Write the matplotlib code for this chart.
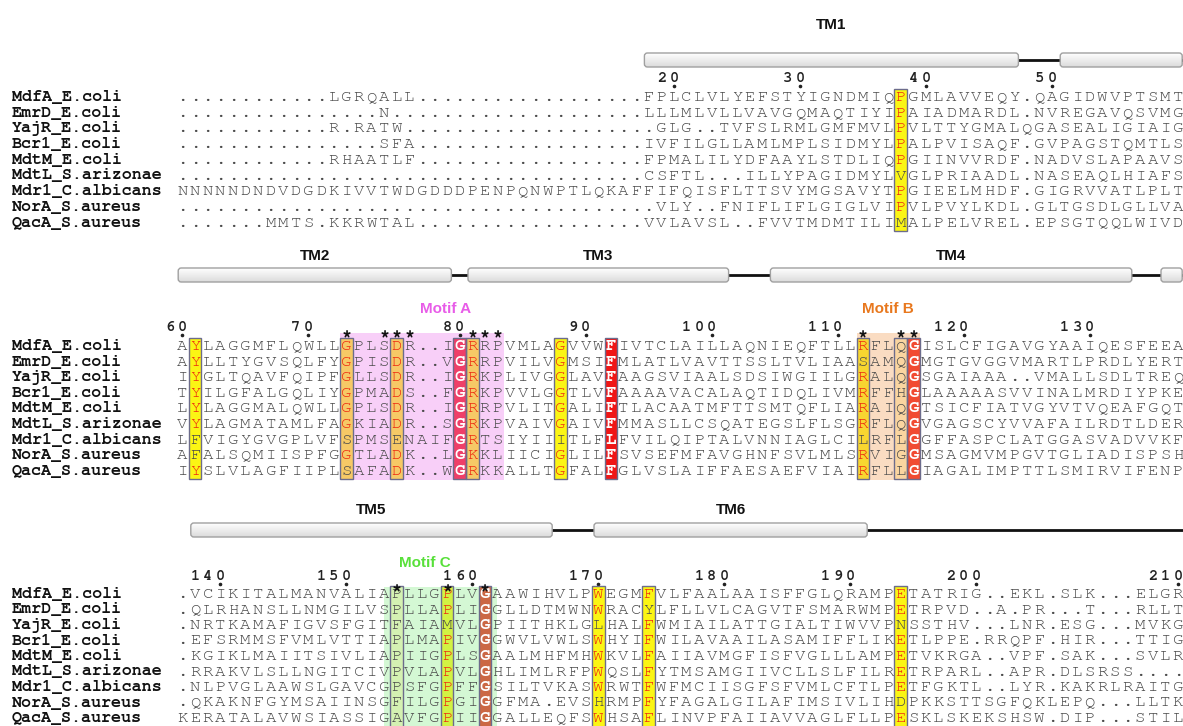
import numpy as np
import matplotlib.pyplot as plt
from matplotlib import font_manager as fm
from matplotlib.patches import Rectangle, FancyBboxPatch

names = ['MdfA_E.coli', 'EmrD_E.coli', 'YajR_E.coli', 'Bcr1_E.coli', 'MdtM_E.coli',
         'MdtL_S.arizonae', 'Mdr1_C.albicans', 'NorA_S.aureus', 'QacA_S.aureus']

# alignment, three blocks of 80 columns
block1 = [
    '.' * 12 + 'LGRQALL' + '.' * 18 + 'FPLCLVLYEFSTYIGNDMIQPGMLAVVEQY.QAGIDWVPTSMT',
    '.' * 16 + 'N' + '.' * 20 + 'LLLMLVLLVAVGQMAQTIYIPAIADMARDL.NVREGAVQSVMG',
    '.' * 12 + 'R.RATW' + '.' * 19 + '.GLG..TVFSLRMLGMFMVLPVLTTYGMALQGASEALIGIAIG',
    '.' * 16 + 'SFA' + '.' * 18 + 'IVFILGLLAMLMPLSIDMYLPALPVISAQF.GVPAGSTQMTLS',
    '.' * 12 + 'RHAATLF' + '.' * 18 + 'FPMALILYDFAAYLSTDLIQPGIINVVRDF.NADVSLAPAAVS',
    '.' * 37 + 'CSFTL...ILLYPAGIDMYLVGLPRIAADL.NASEAQLHIAFS',
    'NNNNNDNDVDGDKIVVTWDGDDDPENPQNWPTLQKAF' + 'FIFQISFLTTSVYMGSAVYTPGIEELMHDF.GIGRVVATLPLT',
    '.' * 37 + '.VLY..FNIFLIFLGIGLVIPVLPVYLKDL.GLTGSDLGLLVA',
    '.' * 7 + 'MMTS.KKRWTAL' + '.' * 18 + 'VVLAVSL..FVVTMDMTILIMALPELVREL.EPSGTQQLWIVD',
]
block2 = [
    'AYLAGGMFLQWLLGPLSDR..IGRRPVMLAGVVWFIVTCLAILLAQNIEQFTLLRFLQGISLCFIGAVGYAAIQESFEEA',
    'AYLLTYGVSQLFYGPISDR..VGRRPVILVGMSIFMLATLVAVTTSSLTVLIAASAMQGMGTGVGGVMARTLPRDLYERT',
    'IYGLTQAVFQIPFGLLSDR..IGRKPLIVGGLAVFAAGSVIAALSDSIWGIILGRALQGSGAIAAA..VMALLSDLTREQ',
    'TYILGFALGQLIYGPMADS..FGRKPVVLGGTLVFAAAAVACALAQTIDQLIVMRFFHGLAAAAASVVINALMRDIYPKE',
    'LYLAGGMALQWLLGPLSDR..IGRRPVLITGALIFTLACAATMFTTSMTQFLIARAIQGTSICFIATVGYVTVQEAFGQT',
    'VYLAGMATAMLFAGKIADR..SGRKPVAIVGAIVFMMASLLCSQATEGSLFLSGRFLQGVGAGSCYVVAFAILRDTLDER',
    'LFVIGYGVGPLVFSPMSENAIFGRTSIYIIITLFLFVILQIPTALVNNIAGLCILRFLGGFFASPCLATGGASVADVVKFW',
    'AFALSQMIISPFGGTLADK..LGKKLIICIGLILFSVSEFMFAVGHNFSVLMLSRVIGGMSAGMVMPGVTGLIADISPSH',
    'IYSLVLAGFIIPLSAFADK..WGRKKALLTGFALFGLVSLAIFFAESAEFVIAIRFLLGIAGALIMPTTLSMIRVIFENP',
]
block3 = [
    '.VCIKITALMANVALIAPLLGPLVGAAWIHVLPWEGMFVLFAALAAISFFGLQRAMPETATRIG..EKL.SLK...ELGR',
    '.QLRHANSLLNMGILVSPLLAPLIGGLLDTMWNWRACYLFLLVLCAGVTFSMARWMPETRPVD..A.PR...T...RLLT',
    '.NRTKAMAFIGVSFGITFAIAMVLGPIITHKLGLHALFWMIAILATTGIALTIWVVPNSSTHV...LNR.ESG...MVKG',
    '.EFSRMMSFVMLVTTIAPLMAPIVGGWVLVWLSWHYIFWILAVAAILASAMIFFLIKETLPPE.RRQPF.HIR...TTIG',
    '.KGIKLMAIITSIVLIAPIIGPLSGAALMHFMHWKVLFAIIAVMGFISFVGLLLAMPETVKRGA..VPF.SAK...SVLR',
    '.RRAKVLSLLNGITCIVPVLAPVLGHLIMLRFPWQSLFYTMSAMGIIVCLLSLFILRETRPARL..APR.DLSRSS....',
    '.NLPVGLAAWSLGAVCGPSFGPFFGSILTVKASWRWTFWFMCIISGFSFVMLCFTLPETFGKTL..LYR.KAKRLRAITG',
    '.QKAKNFGYMSAIINSGFILGPGIGGFMA.EVSHRMPFYFAGALGILAFIMSIVLIHDPKKSTTSGFQKLEPQ...LLTK',
    'KERATALAVWSIASSIGAVFGPIIGGALLEQFSWHSAFLINVPFAIIAVVAGLFLLPESKLSKEKSHSW.DIP...STIL',
]
blocks = [block1, block2, block3]

# residue numbering: (column, number)
ticks1 = [(39, 20), (49, 30), (59, 40), (69, 50)]
ticks2 = [(0, 60), (10, 70), (22, 80), (32, 90), (42, 100), (52, 110), (62, 120), (72, 130)]
ticks3 = [(3, 140), (13, 150), (23, 160), (33, 170), (43, 180), (53, 190), (63, 200), (79, 210)]
ticks = [ticks1, ticks2, ticks3]

# conserved columns: (column, kind, residues drawn in red)
columns1 = [(57, 'sim', 'P')]
columns2 = [(1, 'sim', 'Y'), (13, 'sim', 'G'), (17, 'sim', 'D'), (22, 'id', ''),
            (23, 'sim', 'RK'), (30, 'sim', 'G'), (34, 'id', ''), (54, 'sim', 'R'),
            (57, 'frame', ''), (58, 'id', '')]
columns3 = [(17, 'frame', ''), (21, 'sim', 'P'), (24, 'id', ''), (33, 'sim', 'W'),
            (37, 'sim', 'F'), (57, 'sim', 'E')]
columns = [columns1, columns2, columns3]

# secondary structure: coil extent and helices (first col, last col, label)
coil = [(37, 79), (0, 79), (1, 79)]
helices = [
    [(37, 66, 'TM1'), (70, 79, '')],
    [(0, 21, 'TM2'), (23, 43, 'TM3'), (47, 75, 'TM4'), (78, 79, '')],
    [(1, 29, 'TM5'), (33, 54, 'TM6')],
]

# motifs: (block, first col, last col, label, label col, colour, text colour, star cols)
motifs = [
    (1, 13, 25, 'Motif A', 20.9, '#ee82ee', '#e85ce8', [13, 16, 17, 18, 23, 24, 25]),
    (1, 54, 58, 'Motif B', 56.0, '#f4a460', '#e8781e', [54, 57, 58]),
    (2, 16.5, 24.5, 'Motif C', 19.2, '#90ee90', '#58e03a', [17, 21, 24]),
]

avail = {f.name for f in fm.fontManager.ttflist}


def pick(prefs, default):
    return next((p for p in prefs if p in avail), default)


mono = pick(['Courier New', 'Nimbus Mono PS', 'Nimbus Mono L', 'FreeMono', 'Courier Prime',
             'Liberation Mono', 'Cousine'], 'DejaVu Sans Mono')
sans = pick(['Liberation Sans', 'Arimo', 'Arial'], 'DejaVu Sans')

W, H = 1183, 726
fig = plt.figure(figsize=(W / 100, H / 100), dpi=100)
ax = fig.add_axes([0, 0, 1, 1])
ax.axis('off')

X0, CW = 182.5, 12.6
row0 = [97, 346, 594]
row_h = [15.7, 15.6, 15.5]
num_y = [78, 327, 576]
bar_y = [60, 275, 530]
tm_label_y = [25, 256, 510]
star_y = [None, 333, 587]
seq_grey = '#4a4a4a'


def cx(c):
    return X0 + c * CW


grad = np.linspace(0.995, 0.86, 32).reshape(-1, 1)

for b, rows in enumerate(blocks):
    RH = row_h[b]
    top = row0[b] - 8.5
    bottom = row0[b] + RH * (len(rows) - 1) + 8.5
    hl = {c: (kind, reds) for c, kind, reds in columns[b]}

    # column shading
    for c, (kind, reds) in hl.items():
        fc = {'id': '#f01616', 'sim': '#fbf514', 'frame': '#fff4c8'}[kind]
        ax.add_patch(Rectangle((cx(c) - CW / 2, top), CW, bottom - top,
                               facecolor=fc, edgecolor='none', zorder=1))
        ax.add_patch(Rectangle((cx(c) - CW / 2, top), CW, bottom - top,
                               facecolor='none', edgecolor='#6c6c8c', lw=1.0, zorder=4))

    # sequences
    for r, seq in enumerate(rows):
        y = row0[b] + r * RH
        ax.text(12, y + 4, names[r], family=mono, weight='bold', fontsize=12,
                color='#111111', ha='left', va='baseline', zorder=3)
        for c, ch in enumerate(seq):
            color, weight = seq_grey, 'normal'
            if c in hl:
                kind, reds = hl[c]
                if kind == 'id':
                    color, weight = 'white', 'bold'
                elif kind == 'sim' and ch in reds:
                    color = '#ee2a10'
            ax.text(cx(c), y + 4, ch, family=mono, fontsize=12.5, color=color,
                    weight=weight, ha='center', va='baseline', zorder=3)

    # residue numbering, dot under the last digit
    for c, n in ticks[b]:
        s = str(n)
        for k, d in enumerate(s):
            ax.text(cx(c - (len(s) - 1 - k)), num_y[b] + 4, d, family=mono,
                    weight='bold', fontsize=11, color='#222222', ha='center',
                    va='baseline', zorder=3)
        ax.plot(cx(c), num_y[b] + 7.5, 'o', ms=1.6, color='#222222', zorder=3)

    # secondary structure
    c0, c1 = coil[b]
    ax.plot([cx(c0), cx(c1) + CW / 2], [bar_y[b], bar_y[b]], color='#111111',
            lw=2, solid_capstyle='butt', zorder=1)
    for h0, h1, label in helices[b]:
        x0 = cx(h0) - CW / 2 + 2
        x1 = cx(h1) + CW / 2 - 2
        patch = FancyBboxPatch((x0, bar_y[b] - 7), x1 - x0, 14,
                               boxstyle='round,pad=0,rounding_size=3',
                               facecolor='none', edgecolor='#a0a0a0', lw=1.0, zorder=3)
        ax.add_patch(patch)
        im = ax.imshow(grad, cmap='gray', vmin=0, vmax=1, aspect='auto',
                       extent=(x0, x1, bar_y[b] + 7, bar_y[b] - 7),
                       origin='upper', zorder=2, interpolation='bilinear')
        im.set_clip_path(patch)
        if label:
            ax.text((x0 + x1) / 2, tm_label_y[b], label, family=sans,
                    weight='bold', fontsize=11, color='#111111', ha='center',
                    va='center', zorder=3)

# motif boxes, labels and stars
for b, m0, m1, label, lc, fc, tc, stars in motifs:
    top = star_y[b] - 0.5
    bottom = row0[b] + row_h[b] * 8 + 9.5 if b == 1 else H + 1
    ax.add_patch(Rectangle((cx(m0) - CW / 2, top), (m1 - m0 + 1) * CW, bottom - top,
                           facecolor=fc, edgecolor='none', alpha=0.38, zorder=2))
    ax.text(cx(lc), star_y[b] - 24, label, family=sans, weight='bold',
            fontsize=11, color=tc, ha='center', va='center', zorder=3)
    for c in stars:
        ax.text(cx(c), star_y[b] + 4, '*', family=mono, fontsize=12, weight='bold',
                color='#111111', ha='center', va='center', zorder=5)

ax.set_xlim(0, W)
ax.set_ylim(H, 0)
fig.savefig('out.png', dpi=100, facecolor='white')
